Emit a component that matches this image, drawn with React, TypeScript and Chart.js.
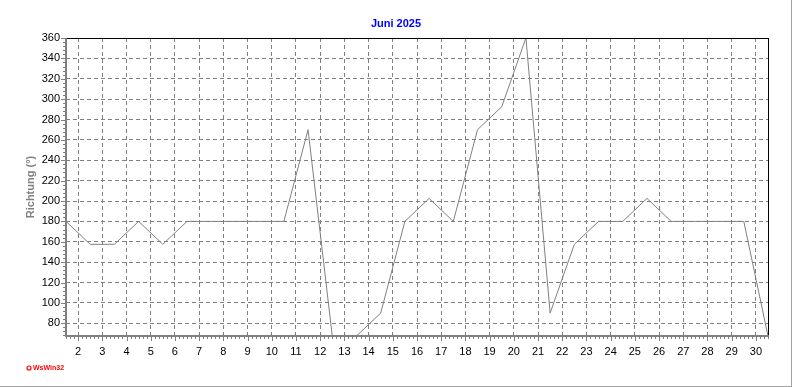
import React, { useEffect, useRef } from 'react';
import { Chart, registerables } from 'chart.js';

Chart.register(...registerables);

const chartTitle = 'Juni 2025';
const yAxisTitle = 'Richtung (°)';
const logoText = 'WsWin32';

// daily wind direction, plotted at the middle of each day
const dayNoon = [
  1.5, 2.5, 3.5, 4.5, 5.5, 6.5, 7.5, 8.5, 9.5, 10.5,
  11.5, 12.5, 13.5, 14.5, 15.5, 16.5, 17.5, 18.5, 19.5, 20.5,
  21.5, 22.5, 23.5, 24.5, 25.5, 26.5, 27.5, 28.5, 29.5, 30.5,
];
const direction = [
  180, 157.5, 157.5, 180, 157.5, 180, 180, 180, 180, 180,
  270, 67.5, 67.5, 90, 180, 202.5, 180, 270, 292.5, 360,
  90, 157.5, 180, 180, 202.5, 180, 180, 180, 180, 67.5,
];
const xTickDays = [
  2, 3, 4, 5, 6, 7, 8, 9, 10, 11, 12, 13, 14, 15, 16,
  17, 18, 19, 20, 21, 22, 23, 24, 25, 26, 27, 28, 29, 30,
];
const yTickValues = [80, 100, 120, 140, 160, 180, 200, 220, 240, 260, 280, 300, 320, 340, 360];
const xMin = 1.5;
const xMax = 30.5;
const yMin = 67.5;
const yMax = 360;

const FONT = '"Liberation Sans", Arial, sans-serif';
const GRID = '#808080';

const framePlugin = {
  id: 'framePlugin',
  afterDraw(chart: any) {
    const { ctx, chartArea } = chart;
    const left = Math.round(chartArea.left);
    const right = Math.round(chartArea.right);
    const top = Math.round(chartArea.top);
    const bottom = Math.round(chartArea.bottom);
    const xs = chart.scales.x;
    const ys = chart.scales.y;
    ctx.save();
    // top & right black frame
    ctx.strokeStyle = '#000000';
    ctx.lineWidth = 1;
    ctx.setLineDash([]);
    ctx.beginPath();
    ctx.moveTo(left, top + 0.5);
    ctx.lineTo(right + 1, top + 0.5);
    ctx.moveTo(right + 0.5, top);
    ctx.lineTo(right + 0.5, bottom);
    ctx.stroke();
    // gray axes
    ctx.fillStyle = GRID;
    ctx.fillRect(left - 1, top, 2, bottom - top + 1);
    ctx.fillRect(left - 1, bottom - 1, right - left + 2, 2);
    // x minor/major ticks
    for (let d = xMin; d <= xMax + 1e-6; d += 1 / 6) {
      const px = Math.round(xs.getPixelForValue(d));
      const isMajor = Math.abs(d - Math.round(d)) < 1e-3;
      ctx.fillRect(px, bottom + 1, 1, isMajor ? 4 : 2);
    }
    // y minor/major ticks
    for (let v = yMax; v >= yMin; v -= 4) {
      const py = Math.round(ys.getPixelForValue(v));
      const isMajor = v % 20 === 0;
      const len = isMajor ? 4 : 2;
      ctx.fillRect(left - 1 - len, py, len, 1);
    }
    // outer panel edge
    ctx.fillStyle = '#a0a0a0';
    ctx.fillRect(chart.width - 1, 0, 1, chart.height);
    ctx.fillRect(0, chart.height - 1, chart.width, 1);
    // logo
    ctx.fillStyle = '#ff0000';
    ctx.strokeStyle = '#ff0000';
    ctx.beginPath();
    ctx.arc(29, 368, 2, 0, Math.PI * 2);
    ctx.lineWidth = 1.2;
    ctx.stroke();
    ctx.font = 'bold 7px ' + FONT;
    ctx.textBaseline = 'middle';
    ctx.textAlign = 'left';
    ctx.fillText(logoText, 33, 368);
    ctx.restore();
  },
};

export default function App() {
  const canvasRef = useRef<HTMLCanvasElement | null>(null);

  useEffect(() => {
    document.body.style.margin = '0';
    const canvas = canvasRef.current;
    if (!canvas) return;
    const chart = new Chart(canvas, {
      type: 'line',
      data: {
        datasets: [
          {
            label: yAxisTitle,
            data: dayNoon.map((d, i) => ({ x: d, y: direction[i] })),
            borderColor: '#808080',
            borderWidth: 1,
            pointRadius: 0,
            tension: 0,
            fill: false,
          },
        ],
      },
      options: {
        responsive: false,
        animation: false,
        devicePixelRatio: 1,
        layout: { padding: 0 },
        plugins: {
          legend: { display: false },
          tooltip: { enabled: false },
          title: {
            display: true,
            text: chartTitle,
            color: '#0000ff',
            font: { family: FONT, size: 11, weight: 'bold' },
            padding: { top: 17, bottom: 7.8 },
          },
        },
        scales: {
          x: {
            type: 'linear',
            min: xMin,
            max: xMax,
            afterBuildTicks: (scale: any) => {
              scale.ticks = xTickDays.map((v) => ({ value: v }));
            },
            afterFit: (scale: any) => {
              scale.height = 51;
            },
            ticks: {
              color: '#000000',
              font: { family: FONT, size: 11 },
              padding: 9,
              maxRotation: 0,
              autoSkip: false,
              callback: (v: any) => String(v),
            },
            grid: { color: GRID, lineWidth: 1, drawTicks: false },
            border: { display: false, dash: [4, 3] },
          },
          y: {
            type: 'linear',
            min: yMin,
            max: yMax,
            afterBuildTicks: (scale: any) => {
              scale.ticks = yTickValues.map((v) => ({ value: v }));
            },
            afterFit: (scale: any) => {
              scale.width = 66;
            },
            ticks: {
              color: '#000000',
              font: { family: FONT, size: 11 },
              padding: 6,
              autoSkip: false,
              callback: (v: any) => String(v),
            },
            grid: { color: GRID, lineWidth: 1, drawTicks: false },
            border: { display: false, dash: [4, 3] },
            title: {
              display: true,
              text: yAxisTitle,
              color: '#808080',
              font: { family: FONT, size: 11, weight: 'bold' },
              padding: { top: 24, bottom: 0 },
            },
          },
          y2: {
            type: 'linear',
            position: 'right',
            display: true,
            grid: { display: false },
            border: { display: false },
            ticks: { display: false },
            afterFit: (scale: any) => {
              scale.width = 24;
            },
          },
        },
      },
      plugins: [framePlugin],
    } as any);
    return () => chart.destroy();
  }, []);

  return (
    <div style={{ width: 792, height: 387, background: '#ffffff' }}>
      <canvas ref={canvasRef} width={792} height={387} style={{ display: 'block' }} />
    </div>
  );
}
